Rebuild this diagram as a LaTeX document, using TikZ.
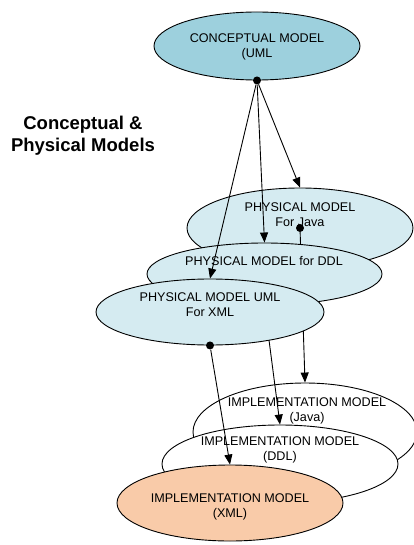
\documentclass[tikz,border=0pt]{standalone}
\usepackage{fontspec}
\setmainfont{Liberation Sans}
\usetikzlibrary{arrows.meta,shapes.geometric,positioning}

\definecolor{concblue}{RGB}{157,208,221}
\definecolor{physblue}{RGB}{213,235,241}
\definecolor{implpeach}{RGB}{249,203,169}
\newcommand{\modelfont}{\fontsize{12.6}{15}\selectfont}
\newcommand{\titlefont}{\fontsize{18.5}{22}\selectfont\bfseries}

\tikzset{
  model/.style={draw, ellipse, inner sep=0pt, line width=0.9pt},
  modeltext/.style={align=center, font=\modelfont, inner sep=0pt},
  joint/.style={circle, fill=black, inner sep=0pt, minimum size=8pt},
  link/.style={line width=0.9pt, -{Triangle[length=10pt,width=8pt]}}
}

\begin{document}
\begin{tikzpicture}[x=1pt, y=-1pt]
  \useasboundingbox (0,0) rectangle (414,545);

  \node[font=\titlefont, align=center] (title) at (83,136) {Conceptual \&\\Physical Models};

  \node[model, fill=white, minimum width=224, minimum height=98] (ijava) at (305,432) {};
  \node[modeltext] (ijavatxt) at (307,411) {IMPLEMENTATION MODEL\\(Java)};
  \node[model, fill=white, minimum width=236, minimum height=78] (iddl) at (280,464) {};
  \node[modeltext] (iddltxt) at (280,450) {IMPLEMENTATION MODEL\\(DDL)};
  \node[model, fill=implpeach, minimum width=226, minimum height=76] (ixml) at (230,503) {};
  \node[modeltext] (ixmltxt) at (230,507) {IMPLEMENTATION MODEL\\(XML)};

  \node[model, fill=physblue, minimum width=226, minimum height=80] (pjava) at (300,228) {};
  \node[modeltext] (pjavatxt) at (300,215) {PHYSICAL MODEL\\For Java};
  \node[joint] (jjava) at (pjava.center) {};
  \draw[link] (jjava) -- (ijava.north);

  \node[model, fill=physblue, minimum width=235, minimum height=62] (pddl) at (264.5,274) {};
  \node[modeltext] (pddltxt) at (264,261) {PHYSICAL MODEL for DDL};
  \draw[link] (pddl.south) -- (iddl.north);

  \node[model, fill=physblue, minimum width=228, minimum height=66] (pxml) at (210,312) {};
  \node[modeltext] (pxmltxt) at (210,304.5) {PHYSICAL MODEL UML\\For XML};
  \node[joint] (jxml) at (pxml.south) {};
  \draw[link] (jxml) -- (ixml.north);

  \node[model, fill=concblue, minimum width=206, minimum height=68] (cmodel) at (257,46) {};
  \node[modeltext] (cmodeltxt) at (257,47) {CONCEPTUAL MODEL\\(UML};
  \node[joint] (jconc) at (cmodel.south) {};
  \draw[link] (jconc) -- (pjava.north);
  \draw[link] (jconc) -- (pddl.north);
  \draw[link] (jconc) -- (pxml.north);
\end{tikzpicture}
\end{document}
